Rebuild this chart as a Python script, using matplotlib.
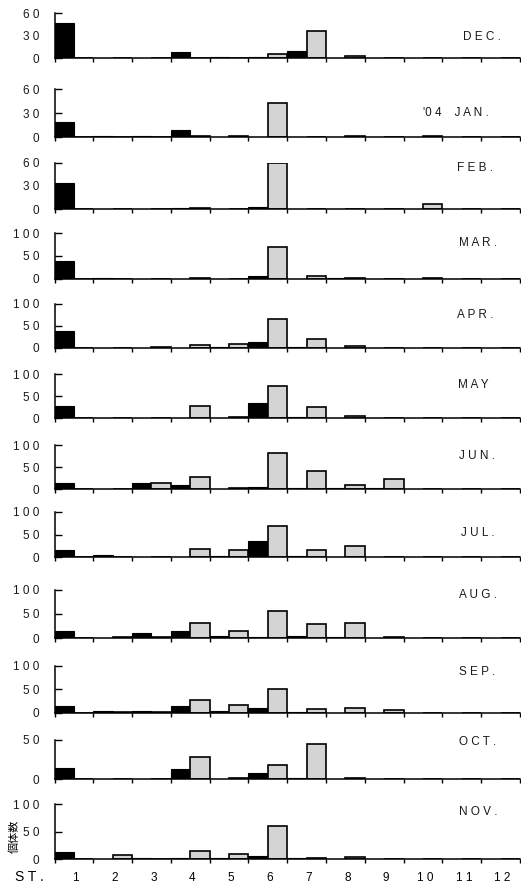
import numpy as np
import matplotlib.pyplot as plt

# stations 1..12, black = left bar, stippled = right bar
stations = [str(i) for i in range(1, 13)]
months = ["D E C .", "'0 4    J A N .", "F E B .", "M A R .", "A P R .", "M A Y",
          "J U N .", "J U L .", "A U G .", "S E P .", "O C T .", "N O V ."]

black_dec = [47, 0, 0, 8, 2, 2, 10, 0, 0, 0, 0, 0]
gray_dec = [0, 0, 0, 0, 1, 6, 36, 3, 0, 1, 0, 0]
black_jan = [19, 1, 2, 9, 0, 0, 0, 0, 0, 0, 0, 0]
gray_jan = [0, 0, 0, 2, 1, 43, 0, 1, 0, 1, 0, 0]
black_feb = [34, 0, 0, 2, 0, 3, 0, 0, 0, 0, 0, 0]
gray_feb = [0, 0, 0, 2, 0, 60, 1, 0, 0, 7, 0, 0]
black_mar = [38, 1, 0, 0, 0, 7, 0, 1, 0, 0, 0, 0]
gray_mar = [0, 0, 0, 1, 0, 69, 6, 1, 0, 2, 0, 0]
black_apr = [38, 0, 0, 0, 2, 14, 1, 0, 0, 0, 0, 0]
gray_apr = [0, 0, 1, 7, 8, 66, 20, 4, 0, 0, 0, 0]
black_may = [28, 1, 0, 0, 0, 34, 2, 0, 0, 0, 0, 0]
gray_may = [0, 0, 1, 29, 2, 74, 25, 5, 1, 0, 0, 0]
black_jun = [13, 1, 14, 8, 0, 4, 3, 2, 3, 0, 0, 0]
gray_jun = [0, 0, 14, 27, 2, 81, 42, 10, 23, 0, 0, 0]
black_jul = [15, 4, 0, 0, 3, 36, 3, 0, 0, 0, 0, 0]
gray_jul = [0, 0, 0, 19, 16, 69, 15, 25, 1, 0, 0, 0]
black_aug = [16, 1, 10, 16, 4, 3, 4, 3, 0, 0, 0, 0]
gray_aug = [0, 3, 2, 32, 16, 57, 29, 31, 2, 0, 0, 0]
black_sep = [15, 4, 4, 14, 4, 11, 1, 0, 0, 0, 0, 0]
gray_sep = [0, 2, 1, 26, 16, 51, 7, 9, 5, 0, 0, 0]
black_oct = [15, 0, 1, 13, 1, 8, 2, 0, 0, 0, 0, 0]
gray_oct = [0, 0, 1, 29, 2, 18, 45, 2, 1, 0, 0, 0]
black_nov = [14, 1, 2, 2, 2, 6, 2, 0, 0, 0, 0, 0]
gray_nov = [0, 7, 0, 15, 9, 61, 3, 4, 0, 0, 0, 0]

blacks = [black_dec, black_jan, black_feb, black_mar, black_apr, black_may,
          black_jun, black_jul, black_aug, black_sep, black_oct, black_nov]
grays = [gray_dec, gray_jan, gray_feb, gray_mar, gray_apr, gray_may,
         gray_jun, gray_jul, gray_aug, gray_sep, gray_oct, gray_nov]
ymax = [60, 60, 60, 100, 100, 100, 100, 100, 100, 100, 50, 100]
yticks = [[0, 30, 60]] * 3 + [[0, 50, 100]] * 7 + [[0, 50], [0, 50, 100]]

# panel placement in pixels (top of y range, zero line)
W, H = 521, 884
tops = [13.3, 89.3, 162.7, 233.3, 304, 374.3, 445, 511.7, 589.7, 665.7, 740, 804.3]
bots = [58.3, 137.3, 209.3, 278.7, 347.7, 418.3, 489, 557.3, 638.3, 712.7, 779.3, 859.3]
label_y = [37, 113, 168, 243, 315, 385, 456, 533, 595, 672, 742, 812]
label_x = [482, 456, 475, 478, 475, 473, 477, 478, 478, 477, 478, 478]
x0, x1 = 54.5, 520

plt.rcParams['font.family'] = ['Liberation Sans', 'Noto Sans CJK JP', 'DejaVu Sans']
fig = plt.figure(figsize=(W / 100, H / 100), dpi=100)

x = np.arange(12)
for k in range(12):
    ax = fig.add_axes([x0 / W, 1 - bots[k] / H, (x1 - x0) / W, (bots[k] - tops[k]) / H])
    ax.bar(x + 0.25, blacks[k], width=0.5, color='black', edgecolor='black', linewidth=0.8)
    ax.bar(x + 0.75, grays[k], width=0.5, color='#d4d4d4', edgecolor='black', linewidth=1.2)
    ax.set_xlim(0, 12)
    ax.set_ylim(0, ymax[k])
    ax.set_yticks(yticks[k])
    ax.set_yticklabels([" ".join(str(v)) for v in yticks[k]], fontsize=8.5, color='#1a1a1a')
    ax.tick_params(axis='y', direction='in', length=5, width=1, pad=11)
    ax.set_xticks(np.arange(13))
    ax.set_xticklabels([])
    ax.tick_params(axis='x', direction='out', length=3, width=1)
    for s in ['top', 'right']:
        ax.spines[s].set_visible(False)
    for s in ['left', 'bottom']:
        ax.spines[s].set_linewidth(1.1)
    ax.patch.set_alpha(0)
    fig.text(label_x[k] / W, 1 - label_y[k] / H, months[k], ha='center', va='center',
             fontsize=8.5, color='#1a1a1a')
    if k == 11:
        ax.set_xticks(x + 0.55, minor=True)
        ax.set_xticklabels([" ".join(s) for s in stations], minor=True, fontsize=8.5)
        ax.tick_params(axis='x', which='minor', length=0, pad=9)

fig.text(29 / W, 1 - 877 / H, "S T .", ha='center', va='center', fontsize=10)
fig.text(14 / W, 1 - 836 / H, "個体数", rotation=90, ha='center', va='center', fontsize=8,
         family=['Noto Sans CJK JP', 'DejaVu Sans'])

fig.savefig("out.png", dpi=100)
